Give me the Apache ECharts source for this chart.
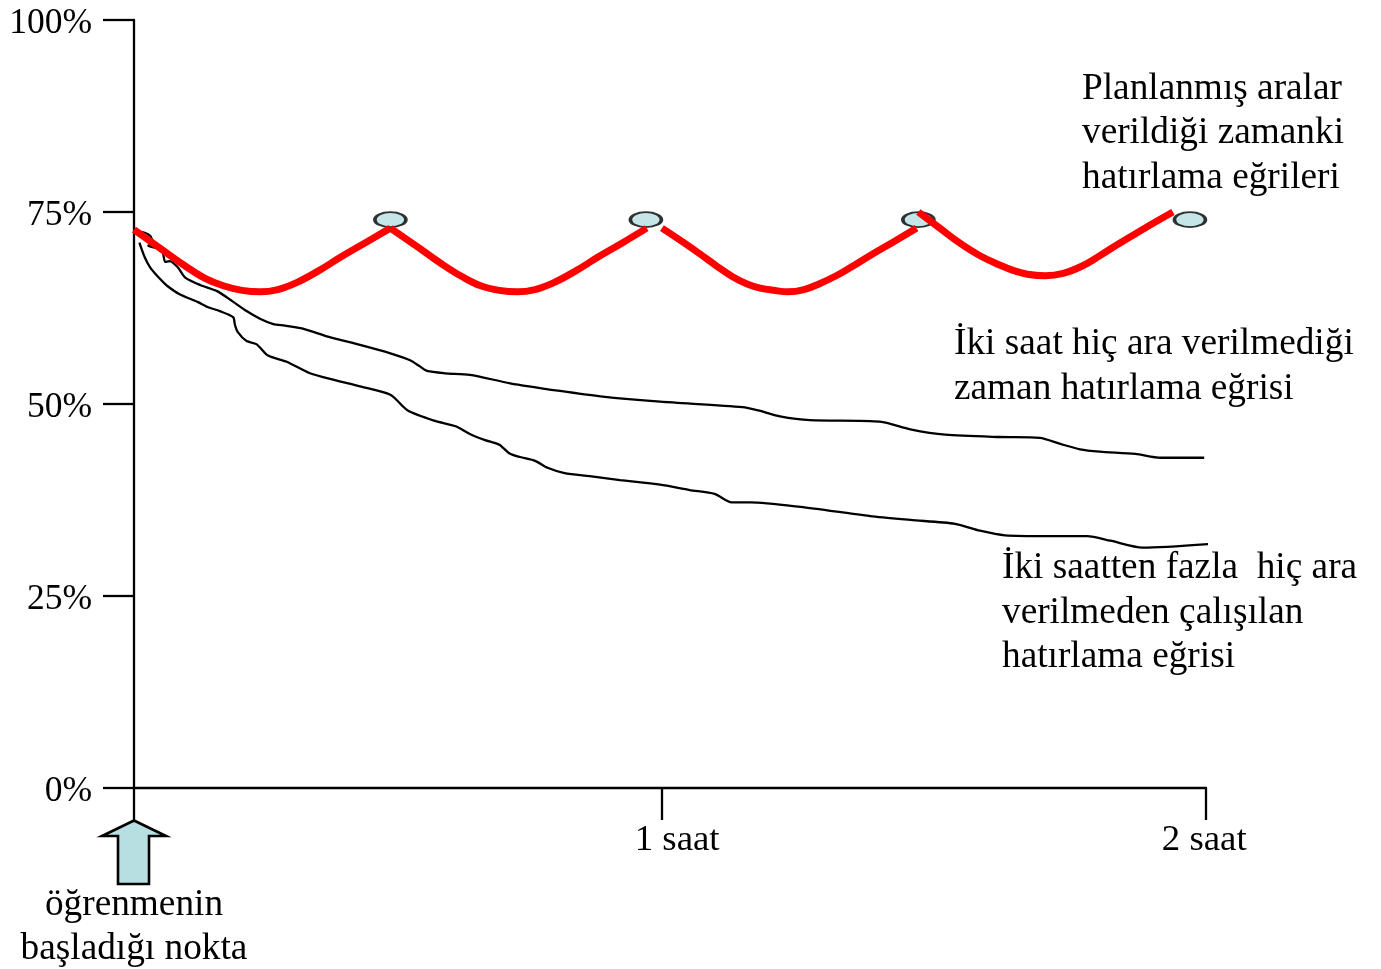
<!DOCTYPE html>
<html>
<head>
<meta charset="utf-8">
<style>html,body{margin:0;padding:0;background:#fff}#c{width:1381px;height:969px}</style>
<script src="https://cdn.jsdelivr.net/npm/echarts@6/dist/echarts.min.js"></script>
</head>
<body>
<div id="c"></div>
<script>
// x = minutes, y = percent remembered
const noBreak = [[0.1,72.5],[1.2,72.3],[1.8,71.9],[2.1,71.0],[1.6,70.6],[3.1,70.1],[3.5,68.5],[4.0,68.6],[4.9,67.8],[5.7,66.5],[7.4,65.5],[9.3,64.7],[11.0,63.4],[12.6,62.1],[14.1,61.1],[15.6,60.4],[16.9,60.2],[18.9,59.8],[21.9,58.7],[25.3,57.7],[28.7,56.6],[30.9,55.7],[32.0,54.9],[32.8,54.3],[34.8,54.0],[37.6,53.8],[42.1,52.7],[47.7,51.7],[52.2,51.0],[58.9,50.3],[68.1,49.6],[70.1,49.1],[72.3,48.4],[75.7,47.9],[83.5,47.7],[86.9,46.7],[90.8,46.0],[96.9,45.7],[101.4,45.6],[103.7,44.8],[105.9,44.1],[108.1,43.8],[112.1,43.5],[114.9,43.0],[119.8,43.0]];
const overTwoHours = [[0.6,71.0],[1.2,69.1],[1.8,67.8],[2.9,66.3],[3.7,65.4],[5.1,64.3],[7.1,63.3],[8.3,62.6],[9.6,62.1],[11.1,61.3],[11.3,60.3],[11.6,59.4],[12.6,58.2],[13.7,57.8],[15.0,56.3],[17.1,55.5],[19.7,54.0],[22.5,53.1],[25.3,52.3],[28.7,51.2],[30.6,49.2],[33.7,47.8],[36.0,47.1],[37.6,46.1],[39.3,45.3],[40.9,44.7],[42.0,43.6],[43.2,43.1],[44.9,42.6],[46.3,41.7],[48.2,41.0],[51.0,40.6],[54.4,40.1],[58.9,39.5],[62.2,38.8],[65.0,38.3],[66.9,37.2],[69.0,37.2],[74.6,36.6],[82.4,35.4],[86.9,34.9],[91.9,34.4],[94.7,33.5],[97.5,32.9],[102.5,32.8],[106.7,32.8],[109.3,32.2],[112.9,31.3],[120.7,31.8]];
const break1 = [[0,72.7],[2.9,70.3],[5.7,68.0],[7.9,66.4],[10.0,65.4],[12.1,64.8],[14.1,64.6],[16.1,64.9],[18.2,65.8],[20.6,67.3],[23.1,69.1],[25.9,71.0],[28.7,72.9]];
const break2 = [[28.7,72.9],[31.7,70.5],[34.5,68.2],[36.7,66.6],[38.8,65.4],[40.9,64.8],[42.9,64.6],[44.9,64.9],[47.0,65.8],[49.4,67.3],[51.9,69.1],[54.7,71.0],[57.4,72.9]];
const break3 = [[59.1,72.9],[61.3,71.2],[63.4,69.5],[65.3,67.9],[67.1,66.5],[68.7,65.6],[70.1,65.1],[71.6,64.8],[73.2,64.6],[75.0,64.9],[76.8,65.7],[78.6,66.7],[80.1,67.7],[82.5,69.4],[85.0,71.1],[87.6,72.9]];
const break4 = [[87.8,75.0],[90.2,72.9],[92.5,70.9],[94.7,69.3],[96.9,68.1],[98.4,67.4],[100.0,66.9],[102.0,66.7],[104.0,67.0],[106.2,68.0],[108.1,69.3],[110.0,70.7],[113.0,72.8],[116.3,75.0]];
const breakMarkers = [[28.7,74],[57.3,74],[87.8,74],[118.2,74]];
const xTickValues = [0,59.1,120];
const xLabelValues = [60.8,119.8];
const xLabels = ['1 saat','2 saat'];
const annotations = [
  {x:1082,y:66.5,t:'Planlanmış aralar\nverildiği zamanki\nhatırlama eğrileri'},
  {x:954,y:322,t:'İki saat hiç ara verilmediği\nzaman hatırlama eğrisi'},
  {x:1002,y:546,t:'İki saatten fazla  hiç ara\nverilmeden çalışılan\nhatırlama eğrisi'}
];
const FONT = '"Liberation Serif"', SIZE = 37.3;
const textStyle = {fontFamily:FONT,fontSize:SIZE,fill:'#000',lineHeight:44.6,textVerticalAlign:'top'};
const blackLine = d => ({type:'line',data:d,showSymbol:false,smooth:0.25,clip:false,z:3,lineStyle:{color:'#000',width:2.3},silent:true});
const redLine = d => ({type:'line',data:d,showSymbol:false,smooth:0.4,clip:false,z:5,lineStyle:{color:'#ff0000',width:7,cap:'butt'},silent:true});
const chart = echarts.init(document.getElementById('c'),null,{renderer:'canvas'});
chart.setOption({
  animation:false,
  backgroundColor:'#fff',
  grid:{left:134,top:20,width:1072,height:768,containLabel:false},
  xAxis:{type:'value',min:0,max:120,splitLine:{show:false},
    axisLine:{lineStyle:{color:'#000',width:2.3}},
    axisTick:{customValues:xTickValues,length:32,lineStyle:{color:'#000',width:2.3}},
    axisLabel:{customValues:xLabelValues,margin:34,color:'#000',fontFamily:FONT,fontSize:36.8,
      formatter:(v)=>xLabels[xLabelValues.indexOf(v)]||''}},
  yAxis:{type:'value',min:0,max:100,interval:25,splitLine:{show:false},
    axisLine:{show:true,lineStyle:{color:'#000',width:2.3}},
    axisTick:{show:true,length:31,lineStyle:{color:'#000',width:2.3}},
    axisLabel:{margin:42,color:'#000',fontFamily:FONT,fontSize:35.5,verticalAlign:'top',padding:[-14,0,0,0],formatter:'{value}%'}},
  series:[
    {type:'scatter',data:breakMarkers,symbol:'circle',symbolSize:[31,15],z:2,silent:true,
      itemStyle:{color:'#b7dfe2',borderColor:'#000',borderWidth:2.6}},
    blackLine(noBreak),blackLine(overTwoHours),
    redLine(break1),redLine(break2),redLine(break3),redLine(break4)
  ],
  graphic:[
    ...annotations.map(a=>({type:'text',x:a.x,y:a.y,style:Object.assign({text:a.t},textStyle)})),
    {type:'polygon',shape:{points:[[134,820.5],[166,836],[149,836],[149,884],[118,884],[118,836],[102,836]]},
      style:{fill:'#b7dfe2',stroke:'#000',lineWidth:2.6}},
    {type:'text',x:134,y:882.5,style:Object.assign({text:'öğrenmenin\nbaşladığı nokta',textAlign:'center'},textStyle)}
  ]
});
</script>
</body>
</html>
